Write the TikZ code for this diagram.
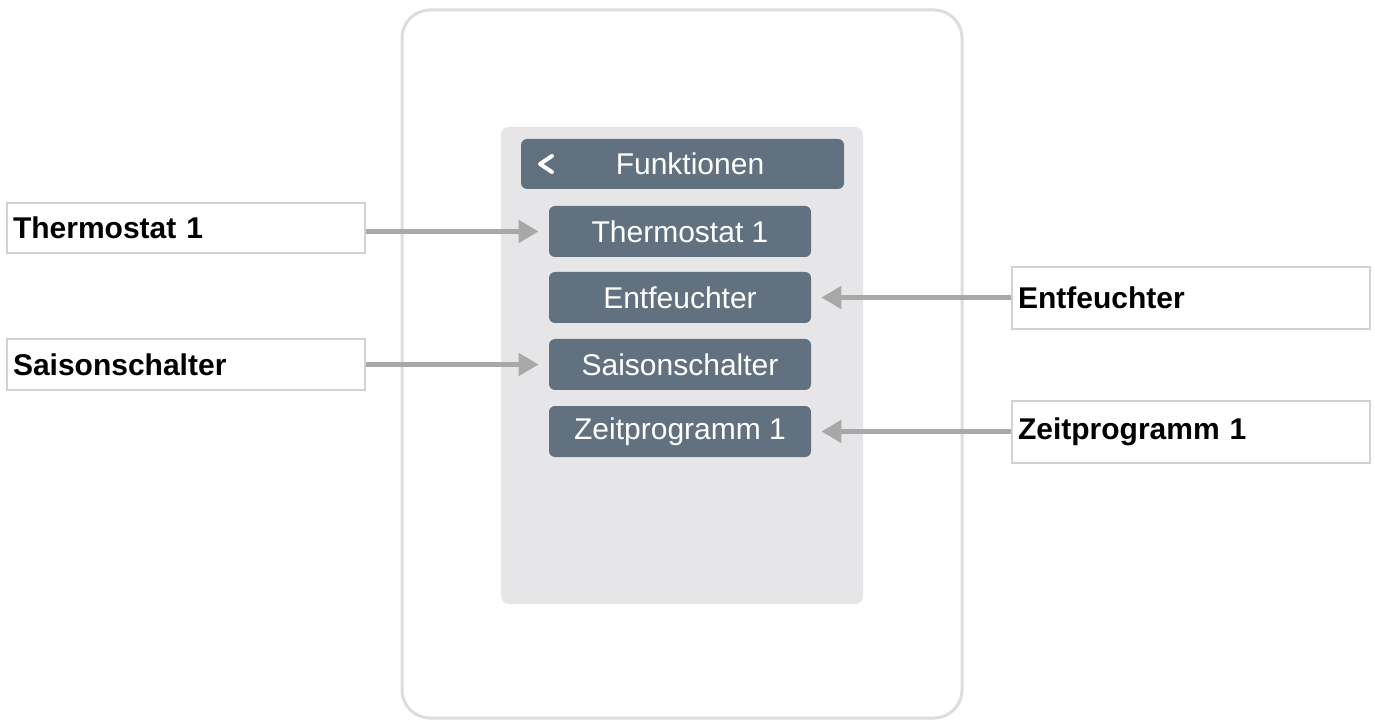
\documentclass[tikz,border=0pt]{standalone}
\usepackage{fontspec}
\setmainfont{Liberation Sans}
\usetikzlibrary{arrows.meta}
\definecolor{slate}{HTML}{627180}
\definecolor{panelgray}{HTML}{E6E6E8}
\definecolor{arrowgray}{HTML}{A8A8A8}
\definecolor{framegray}{HTML}{D2D2D2}
\definecolor{devicegray}{HTML}{DDDDDD}
\tikzset{>={Triangle[length=10pt,width=11pt]}}
\tikzset{
  btn/.style={fill=slate,text=white,rounded corners=3pt,minimum width=131pt,minimum height=25.5pt,inner sep=0pt,font=\fontsize{15}{18}\selectfont},
  lbl/.style={draw=framegray,line width=0.75pt,fill=white,minimum width=179pt,minimum height=25pt,text width=173pt,align=left,inner xsep=3pt,inner ysep=0pt,font=\bfseries\fontsize{15}{18}\selectfont},
  pointer/.style={->,arrowgray,line width=2.5pt}
}

\begin{document}
\begin{tikzpicture}[x=0.5pt,y=-0.5pt]
    \useasboundingbox (0,0) rectangle (1375,721);
    % device frame and screen
    \draw[devicegray,line width=1.5pt,fill=white,rounded corners=14pt] (402,10) rectangle (962,718);
    \fill[panelgray,rounded corners=4pt] (501,127) rectangle (863,604);

    % header bar
    \node[btn,minimum width=161.5pt,minimum height=25pt] (head) at (682.5,164) {};
    \node[text=white,font=\fontsize{15}{18}\selectfont] (title) at (690,164) {Funktionen};
    \draw[white,line width=2pt,line cap=round,line join=round] (552,156) -- (540,164) -- (552,172);

    % menu buttons
    \node[btn] (b1) at (680,231.5) {Thermostat 1};
    \node[btn] (b2) at (680,297.5) {Entfeuchter};
    \node[btn] (b3) at (680,364.5) {Saisonschalter};
    \node[btn] (b4) at (680,431.5) {Zeitprogramm 1};

    % callouts
    \node[lbl] (lt1) at (186,228) {Thermostat 1};
    \node[lbl,minimum height=25.5pt] (lt3) at (186,364.5) {Saisonschalter};
    \node[lbl,minimum height=31pt] (rt2) at (1191,298) {Entfeuchter};
    \node[lbl,minimum height=31pt] (rt4) at (1191,432) {Zeitprogramm 1};

    \draw[pointer,shorten >=5pt] (lt1.east |- b1.west) -- (b1.west);
    \draw[pointer,shorten >=5pt] (lt3.east |- b3.west) -- (b3.west);
    \draw[pointer,shorten >=5pt] (rt2.west |- b2.east) -- (b2.east);
    \draw[pointer,shorten >=5pt] (rt4.west |- b4.east) -- (b4.east);
  \end{tikzpicture}
\end{document}
